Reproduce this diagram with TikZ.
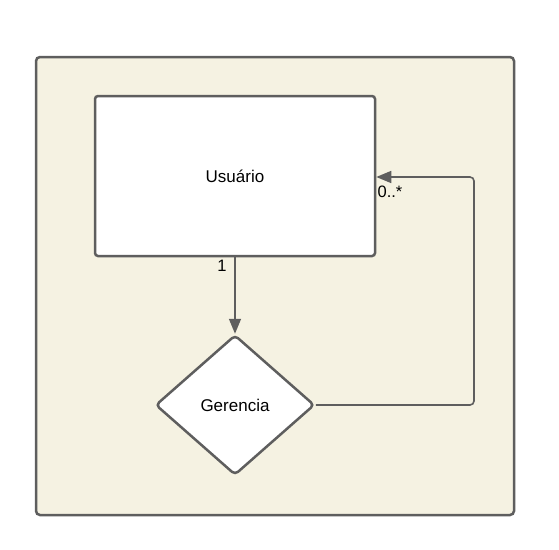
\documentclass[tikz,border=0pt]{standalone}
\usepackage{fontspec}
\setmainfont{Liberation Sans}
\usetikzlibrary{shapes.geometric,arrows.meta}

\definecolor{framefill}{HTML}{F5F2E2}
\definecolor{lineclr}{HTML}{5E5E5E}

\tikzset{
  entity/.style={draw=lineclr,line width=2.5pt,fill=white,rounded corners=3pt,
    minimum width=280pt,minimum height=160pt,font=\fontsize{17}{19}\selectfont},
  relation/.style={draw=lineclr,line width=2.5pt,fill=white,diamond,rounded corners=4pt,
    minimum width=159pt,minimum height=140pt,inner sep=0pt,aspect=1.14,
    font=\fontsize{17}{19}\selectfont},
  conn/.style={draw=lineclr,line width=1.6pt,rounded corners=4pt},
  card/.style={font=\fontsize{16.5}{18}\selectfont,inner sep=0pt}
}

\begin{document}
\begin{tikzpicture}[x=1pt,y=-1pt]
  \useasboundingbox (0,0) rectangle (559,549);
  % outer frame
  \draw[draw=lineclr,line width=2.5pt,fill=framefill,rounded corners=4pt]
    (36,57) rectangle (514,515);
  \node[entity] (usuario) at (235,176) {Usuário};
  \node[relation] (gerencia) at (235,405) {Gerencia};
  \coordinate (corner) at (474,177);
  \draw[conn,-{Triangle[length=15pt,width=12pt]}] (usuario.south) -- (gerencia.north);
  \draw[conn,-{Triangle[length=15pt,width=12pt]}] (gerencia.east) -| (corner) -- (usuario.east |- corner);
  \node[card] at (222,266) {1};
  \node[card] at (390,192) {0..*};
\end{tikzpicture}
\end{document}
